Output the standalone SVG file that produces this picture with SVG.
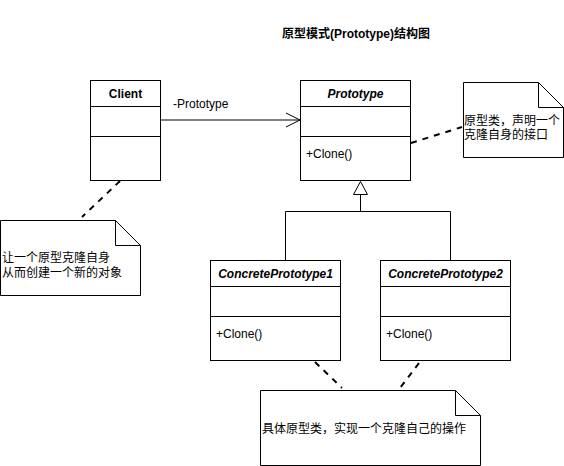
<svg xmlns="http://www.w3.org/2000/svg" width="564" height="466" viewBox="0 0 564 466">
<style>
.box{fill:#fff;stroke:#000;stroke-width:1}
.ln{fill:none;stroke:#000;stroke-width:1}
.dash{fill:none;stroke:#000;stroke-width:2;stroke-dasharray:6 6}
.t{font-family:"Liberation Sans","Noto Sans CJK SC",sans-serif;font-size:12px;fill:#000}
.b{font-weight:bold}
.bi{font-weight:bold;font-style:italic}
.c{text-anchor:middle}
</style>
<rect width="564" height="466" fill="#fff"/>
<text class="t b c" x="356" y="38">原型模式(Prototype)结构图</text>
<g id="connectors">
<line class="ln" x1="160" y1="120" x2="300" y2="120"/>
<polyline class="ln" points="286,113 300,120 286,127"/>
<text class="t" x="173" y="108">-Prototype</text>
<polygon class="box" points="360.5,181.5 353.5,194.5 367.5,194.5"/>
<polyline class="ln" points="360.5,194.5 360.5,211.5"/>
<polyline class="ln" points="285.5,260.5 285.5,211.5 450.5,211.5 450.5,260.5"/>
<line class="dash" x1="411" y1="143" x2="462" y2="127"/>
<line class="dash" x1="120" y1="181" x2="82" y2="217"/>
<line class="dash" x1="315" y1="362" x2="342" y2="388"/>
<line class="dash" x1="419" y1="363" x2="400" y2="388"/>
</g>
<g id="client">
<rect class="box" x="90.5" y="80.5" width="70" height="100"/>
<line class="ln" x1="90.5" y1="106.5" x2="160.5" y2="106.5"/>
<line class="ln" x1="90.5" y1="136.5" x2="160.5" y2="136.5"/>
<text class="t b c" x="125.5" y="98">Client</text>
</g>
<g id="prototype">
<rect class="box" x="300.5" y="80.5" width="110" height="100"/>
<line class="ln" x1="300.5" y1="106.5" x2="410.5" y2="106.5"/>
<line class="ln" x1="300.5" y1="136.5" x2="410.5" y2="136.5"/>
<text class="t bi c" x="355.5" y="98">Prototype</text>
<text class="t" x="306" y="158">+Clone()</text>
</g>
<g id="cp1">
<rect class="box" x="210.5" y="260.5" width="130" height="100"/>
<line class="ln" x1="210.5" y1="286.5" x2="340.5" y2="286.5"/>
<line class="ln" x1="210.5" y1="316.5" x2="340.5" y2="316.5"/>
<text class="t bi c" x="275.5" y="278">ConcretePrototype1</text>
<text class="t" x="216" y="338">+Clone()</text>
</g>
<g id="cp2">
<rect class="box" x="380.5" y="260.5" width="130" height="100"/>
<line class="ln" x1="380.5" y1="286.5" x2="510.5" y2="286.5"/>
<line class="ln" x1="380.5" y1="316.5" x2="510.5" y2="316.5"/>
<text class="t bi c" x="445.5" y="278">ConcretePrototype2</text>
<text class="t" x="386" y="338">+Clone()</text>
</g>
<g id="note-prototype">
<path class="box" d="M463.5,82.5 H538.5 L563.5,107.5 V157.5 H463.5 Z"/>
<path class="ln" d="M538.5,82.5 V107.5 H563.5"/>
<text class="t" x="464" y="125">原型类，声明一个</text>
<text class="t" x="464" y="139">克隆自身的接口</text>
</g>
<g id="note-client">
<path class="box" d="M0.5,220.5 H115.5 L140.5,245.5 V295.5 H0.5 Z"/>
<path class="ln" d="M115.5,220.5 V245.5 H140.5"/>
<text class="t" x="2" y="262">让一个原型克隆自身</text>
<text class="t" x="2" y="277">从而创建一个新的对象</text>
</g>
<g id="note-concrete">
<path class="box" d="M260.5,390.5 H455.5 L480.5,415.5 V465.5 H260.5 Z"/>
<path class="ln" d="M455.5,390.5 V415.5 H480.5"/>
<text class="t" x="262" y="433">具体原型类，实现一个克隆自己的操作</text>
</g>
</svg>
